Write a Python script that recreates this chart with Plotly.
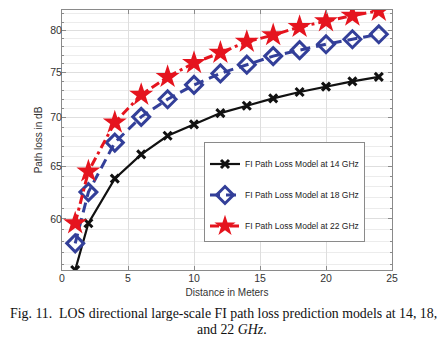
import plotly.graph_objects as go
import math

distance = [1, 2, 4, 6, 8, 10, 12, 14, 16, 18, 20, 22, 24]
pl_14ghz = [55.5, 59.6, 63.8, 66.2, 68.1, 69.3, 70.5, 71.3, 72.1, 72.8, 73.4, 74.0, 74.5]
pl_18ghz = [57.8, 62.5, 67.4, 70.1, 72.0, 73.6, 74.9, 75.9, 76.9, 77.6, 78.3, 78.9, 79.5]
pl_22ghz = [59.6, 64.5, 69.5, 72.5, 74.5, 76.1, 77.3, 78.6, 79.4, 80.4, 81.1, 81.8, 82.4]
names = ["FI Path Loss Model at 14 GHz", "FI Path Loss Model at 18 GHz", "FI Path Loss Model at 22 GHz"]
x_ticks = [0, 5, 10, 15, 20, 25]
y_ticks = [60, 65, 70, 75, 80]
y_minor = [v for v in range(56, 83) if v not in y_ticks]

# page body has an 8px default margin, so the figure is drawn 8px in from the corner
W, H = 438, 332
L, R, T, B = 54, 54, 2, 70
PW, PH = W - L - R, H - T - B

fig = go.Figure()
fig.add_trace(go.Scatter(
    x=distance, y=pl_14ghz, name=names[0], mode="lines+markers", legendgroup="a",
    line=dict(color="#111111", width=2.2),
    marker=dict(symbol="x-thin-open", size=8, line=dict(color="#111111", width=3)),
))
fig.add_trace(go.Scatter(
    x=distance, y=pl_18ghz, name=names[1], mode="lines+markers", legendgroup="b",
    line=dict(color="#333f99", width=3, dash="10px,6px"),
    marker=dict(symbol="diamond-open", size=13, color="#333f99", line=dict(color="#333f99", width=3)),
))
fig.add_trace(go.Scatter(
    x=distance, y=pl_22ghz, name=names[2], mode="lines+markers", legendgroup="c",
    line=dict(color="#e5141e", width=3, dash="9px,4px,3px,4px"),
    marker=dict(symbol="star", size=18, color="#e5141e", line=dict(width=0)),
))

axis_common = dict(
    showline=True, linecolor="#8a8a8a", linewidth=1, mirror="allticks",
    ticks="inside", ticklen=4, tickcolor="#8a8a8a",
    showgrid=True, gridcolor="#dedede", gridwidth=1, zeroline=False,
    tickfont=dict(family="Liberation Sans, Arial", size=10.5, color="#333333"),
)

fig.update_xaxes(
    range=[0, 25], tickvals=x_ticks, ticktext=[str(v) for v in x_ticks],
    ticklabelstandoff=-2,
    title=dict(text="Distance in Meters", font=dict(family="Liberation Sans, Arial", size=10, color="#333333"), standoff=6),
    **axis_common,
)
fig.update_yaxes(
    type="log", range=[math.log10(55.5), math.log10(82.5)],
    tickvals=y_ticks, ticktext=[str(v) for v in y_ticks],
    ticklabelstandoff=-3,
    minor=dict(tickmode="array", tickvals=y_minor, showgrid=True, gridcolor="#ececec",
               ticks="inside", ticklen=2, tickcolor="#8a8a8a"),
    title=dict(text="Path loss in dB", font=dict(family="Liberation Sans, Arial", size=10, color="#333333"), standoff=5),
    **axis_common,
)

fig.update_layout(
    width=W, height=H,
    margin=dict(l=L, r=R, t=T, b=B),
    paper_bgcolor="white", plot_bgcolor="white",
    showlegend=True,
    legend=dict(
        x=(204 - 62) / PW, y=(270 - 142) / PH, xanchor="left", yanchor="top",
        bgcolor="white", bordercolor="#8a8a8a", borderwidth=1,
        font=dict(family="Liberation Sans, Arial", size=8.5, color="#222222"),
        tracegroupgap=12, itemwidth=30,
        title=dict(text=" ", font=dict(size=5)),
    ),
    annotations=[
        dict(text="Fig. 11.  LOS directional large-scale FI path loss prediction models at 14, 18,",
             xref="paper", yref="paper", x=(223 - 62) / PW, y=-(313 - 270) / PH,
             xanchor="center", yanchor="middle", showarrow=False,
             font=dict(family="Liberation Serif, Times New Roman", size=13.85, color="#111111")),
        dict(text="and 22 <i>GHz</i>.",
             xref="paper", yref="paper", x=(232 - 62) / PW, y=-(329 - 270) / PH,
             xanchor="center", yanchor="middle", showarrow=False,
             font=dict(family="Liberation Serif, Times New Roman", size=13.85, color="#111111")),
    ],
)

fig.write_html("out.html")
